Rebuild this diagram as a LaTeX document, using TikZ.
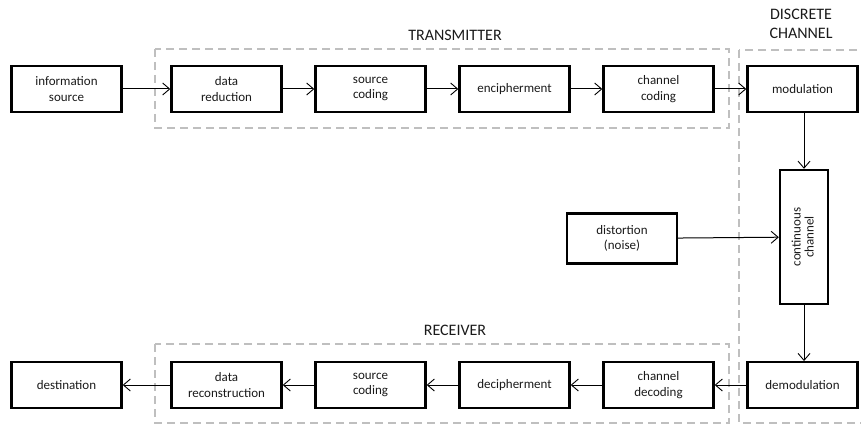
\documentclass[tikz,border=0pt]{standalone}
\usepackage{fontspec}
\setmainfont{Carlito}
\usetikzlibrary{arrows.meta}
\definecolor{txt}{HTML}{1A1A1A}
\definecolor{grp}{HTML}{BFBFBF}
\tikzset{
  blk/.style={draw=black, line width=2.4pt, minimum width=110pt, minimum height=45.5pt,
    align=center, text=txt, font=\fontsize{13}{15.5}\selectfont, inner sep=0pt},
  flow/.style={-{Straight Barb[length=7pt,width=12pt,line width=0.9pt]}, line width=1pt, black},
  grpbox/.style={draw=grp, line width=2pt, dash pattern=on 8pt off 5pt},
  grplabel/.style={text=txt, font=\fontsize{16}{19.5}\selectfont, align=center, inner sep=0pt}
}
\begin{document}
\begin{tikzpicture}[x=1pt,y=-1pt]
  \useasboundingbox (0,0) rectangle (861,425);

  % group frames
  \draw[grpbox] (155,49) rectangle (729,128);
  \draw[grpbox] (155,344) rectangle (729,423);
  \draw[grpbox] (739,50) rectangle (880,423);

  \node[grplabel] (ltx) at (455,35) {TRANSMITTER};
  \node[grplabel] (lrx) at (455,330) {RECEIVER};
  \node[grplabel] (ldc) at (801,24) {DISCRETE\\CHANNEL};

  % transmit chain
  \node[blk] (src) at (66.5,89) {information\\source};
  \node[blk] (red) at (226.5,89) {data\\reduction};
  \node[blk] (scd) at (370.5,89) {source\\coding};
  \node[blk] (enc) at (514.5,89) {encipherment};
  \node[blk] (ccd) at (658.5,89) {channel\\coding};
  \node[blk] (mod) at (802.5,89) {modulation};

  % channel
  \node[blk, minimum width=48pt, minimum height=134pt] (cch) at (804,237)
    {\rotatebox{90}{\begin{tabular}{@{}c@{}}continuous\\[-2.5pt]channel\end{tabular}}};
  \node[blk, minimum height=50pt] (dst) at (622,238.5) {distortion\\(noise)};

  % receive chain
  \node[blk] (dem) at (802.5,385) {demodulation};
  \node[blk] (cdc) at (658.5,385) {channel\\decoding};
  \node[blk] (dec) at (514.5,385) {decipherment};
  \node[blk] (sdc) at (370.5,385) {source\\coding};
  \node[blk] (rec) at (226.5,385) {data\\reconstruction};
  \node[blk] (des) at (66.5,385) {destination};

  % connectors
  \draw[flow] (src) -- (red);
  \draw[flow] (red) -- (scd);
  \draw[flow] (scd) -- (enc);
  \draw[flow] (enc) -- (ccd);
  \draw[flow] (ccd) -- (mod);
  \draw[flow] (mod.south -| cch.north) -- (cch.north);
  \draw[flow] (dst) -- (cch);
  \draw[flow] (cch.south) -- (dem.north -| cch.south);
  \draw[flow] (dem) -- (cdc);
  \draw[flow] (cdc) -- (dec);
  \draw[flow] (dec) -- (sdc);
  \draw[flow] (sdc) -- (rec);
  \draw[flow] (rec) -- (des);
\end{tikzpicture}
\end{document}
